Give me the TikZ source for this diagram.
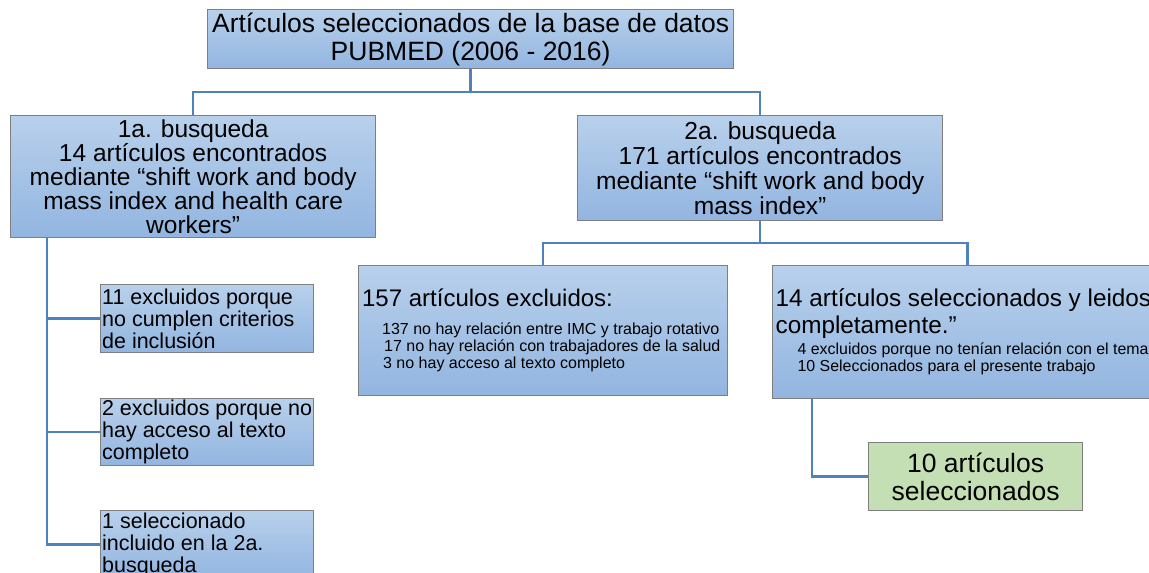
\documentclass[tikz,border=0pt]{standalone}
\usepackage{fontspec}
\setmainfont{Liberation Sans}
\usetikzlibrary{calc}
\definecolor{btop}{HTML}{B8D0EB}
\definecolor{bbot}{HTML}{92B5E0}
\definecolor{conncol}{HTML}{4F81BD}
\definecolor{bordcol}{HTML}{7F7F7F}
\definecolor{gfill}{HTML}{C4DFB3}
\newcommand{\setfs}[2]{\fontsize{#1}{#2}\selectfont\spaceskip=0pt\relax}
\tikzset{
  bx/.style={rectangle, draw=bordcol, line width=1.3pt, top color=btop, bottom color=bbot, inner sep=0pt, anchor=north west, align=center},
  gbx/.style={rectangle, draw=bordcol, line width=1.3pt, fill=gfill, inner sep=0pt, anchor=north west, align=center},
  conn/.style={draw=conncol, line width=2.6pt},
  smallbx/.style={bx, text width=210pt, minimum height=68pt, inner xsep=1.5pt, align=left},
}
\begin{document}
\begin{tikzpicture}[x=1pt,y=-1pt]
\useasboundingbox (0,0) rectangle (1149,573);
% boxes
\node[bx, minimum width=526pt, minimum height=59pt, font=\fontsize{26.5}{28}\selectfont] (top) at (207,9)
  {Artículos seleccionados de la base de datos\\PUBMED (2006 - 2016)};
\node[bx, minimum width=365pt, minimum height=122pt, font=\fontsize{24.5}{23.8}\selectfont] (b1) at (10,115)
  {1a. busqueda\\14 artículos encontrados\\mediante “shift work and body\\mass index and health care\\workers”};
\node[bx, minimum width=365pt, minimum height=105pt, font=\fontsize{24.6}{25}\selectfont] (b2) at (577,115)
  {2a. busqueda\\171 artículos encontrados\\mediante “shift work and body\\mass index”};
\node[bx, text width=362pt, minimum height=130pt, inner xsep=3.5pt, align=left] (b3) at (358,265)
  {{\setfs{24}{27}157 artículos excluidos:\par}\vspace{11pt}%
   {\setfs{16}{17}\hspace*{20pt}137 no hay relación entre IMC y trabajo rotativo\\
   \hspace*{22pt}17 no hay relación con trabajadores de la salud\\
   \hspace*{21pt}3 no hay acceso al texto completo\par}};
\node[bx, text width=384pt, minimum height=133pt, inner xsep=3pt, align=left] (b4) at (772,265)
  {{\setfs{24.3}{27}14 artículos seleccionados y leidos\\completamente.”\par}\vspace{4pt}%
   {\setfs{15.9}{17}\hspace*{22pt}4 excluidos porque no tenían relación con el tema\\
   \hspace*{22pt}10 Seleccionados para el presente trabajo\par}};
\node[gbx, minimum width=214pt, minimum height=68pt, font=\fontsize{26.5}{28}\selectfont] (b5) at (868,442)
  {10 artículos\\seleccionados};
\node[smallbx] (sa) at (100,284)
  {\setfs{21.5}{22}11 excluidos porque\\no cumplen criterios\\de inclusión\par};
\node[smallbx, minimum height=67pt] (sb) at (100,398)
  {\setfs{21.5}{22}2 excluidos porque no\\hay acceso al texto\\completo\par};
\node[smallbx] (sc) at (100,510)
  {\setfs{21.5}{22}1 seleccionado\\incluido en la 2a.\\busqueda\par};
% junction coordinates
\coordinate (j1) at (470,92);
\coordinate (j2) at (760,243);
\coordinate (v) at (47,237);
% connectors
\draw[conn] (top.south) -- (top.south |- j1);
\draw[conn] (b1.north) -- (b1.north |- j1) -- (b2.north |- j1) -- (b2.north);
\draw[conn] (b2.south) -- (b2.south |- j2);
\draw[conn] (b3.north) -- (b3.north |- j2) -- (b4.north |- j2) -- (b4.north);
\draw[conn] (v) |- (sc.west);
\draw[conn] (sa.west) -- (sa.west -| v);
\draw[conn] (sb.west) -- (sb.west -| v);
\draw[conn] ([xshift=40pt]b4.south west) |- (b5.west);
\end{tikzpicture}
\end{document}
